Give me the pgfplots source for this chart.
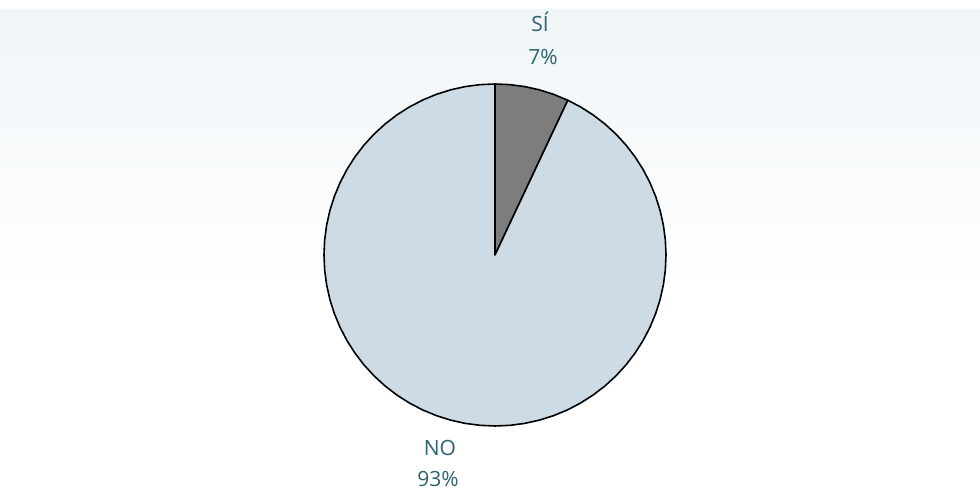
\documentclass[border=0pt]{standalone}
\usepackage{pgfplots}
\pgfplotsset{compat=1.18}
\usepackage{fontspec}
\setmainfont{Open Sans}
\definecolor{nofill}{RGB}{205,220,228}
\definecolor{sifill}{RGB}{125,125,125}
\definecolor{lbl}{RGB}{45,100,110}
\definecolor{bandtop}{RGB}{240,245,248}
\begin{document}
\begin{tikzpicture}[x=1pt,y=1pt]
\fill[white] (0,0) rectangle (490,245);
\shade[top color=bandtop,bottom color=white] (0,100) rectangle (490,240);
\path[use as bounding box] (0,0) rectangle (490,245);
\begin{axis}[
  at={(247.5pt,117.5pt)}, anchor=center,
  scale only axis, width=171pt, height=171pt,
  xmin=-1, xmax=1, ymin=-1, ymax=1,
  hide axis, clip=false,
]
\addplot[data cs=polar, fill=sifill, draw=black, line width=0.8pt, line join=round] coordinates {
(0,0) (90,1) (85,1) (80,1) (75,1) (70,1) (64.8,1) (0,0)} -- cycle;
\addplot[data cs=polar, fill=nofill, draw=black, line width=0.8pt, line join=round] coordinates {
(0,0) (64.8,1) (60,1) (55,1) (50,1) (45,1) (40,1) (35,1) (30,1) (25,1) (20,1) (15,1) (10,1) (5,1) (0,1)
(-5,1) (-10,1) (-15,1) (-20,1) (-25,1) (-30,1) (-35,1) (-40,1) (-45,1) (-50,1) (-55,1) (-60,1) (-65,1) (-70,1) (-75,1) (-80,1) (-85,1) (-90,1)
(-95,1) (-100,1) (-105,1) (-110,1) (-115,1) (-120,1) (-125,1) (-130,1) (-135,1) (-140,1) (-145,1) (-150,1) (-155,1) (-160,1) (-165,1) (-170,1) (-175,1) (-180,1)
(-185,1) (-190,1) (-195,1) (-200,1) (-205,1) (-210,1) (-215,1) (-220,1) (-225,1) (-230,1) (-235,1) (-240,1) (-245,1) (-250,1) (-255,1) (-260,1) (-265,1) (-270,1) (0,0)} -- cycle;
\node[text=lbl, font=\fontsize{10.5}{12}\selectfont] at (axis cs:0.263,1.363) {SÍ};
\node[text=lbl, font=\fontsize{10.5}{12}\selectfont] at (axis cs:0.281,1.158) {7\%};
\node[text=lbl, font=\fontsize{10.5}{12}\selectfont] at (axis cs:-0.322,-1.129) {NO};
\node[text=lbl, font=\fontsize{10.5}{12}\selectfont] at (axis cs:-0.333,-1.31) {93\%};
\end{axis}
\end{tikzpicture}
\end{document}
